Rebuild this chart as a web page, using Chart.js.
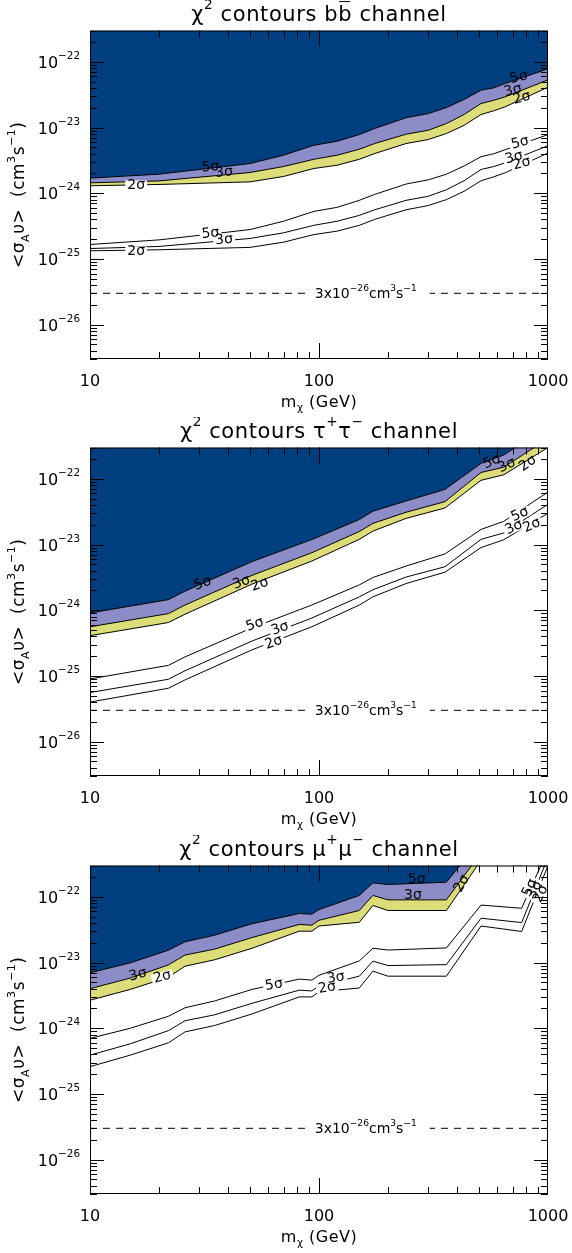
<!DOCTYPE html>
<html>
<head>
<meta charset="utf-8">
<script src="https://cdn.jsdelivr.net/npm/chart.js@4"></script>
<style>
  body { margin: 0; background: #fff; }
  .panel { position: absolute; left: 0; width: 572px; height: 418px; }
</style>
</head>
<body>
<div class="panel" style="top:0px"><canvas id="bb" width="572" height="418"></canvas></div>
<div class="panel" style="top:417px"><canvas id="tau" width="572" height="418"></canvas></div>
<div class="panel" style="top:835px"><canvas id="mu" width="572" height="418"></canvas></div>
<script>
// ---- data (mass in GeV, <sigma v> in cm^3 s^-1) ----
const bbMass  = [10, 20, 50, 70, 95, 120, 150, 175, 240, 300, 360, 430, 510, 580, 650, 1000];
const bbBand5 = [1.70e-24, 1.95e-24, 2.83e-24, 3.79e-24, 5.38e-24, 6.18e-24, 7.82e-24, 9.66e-24, 1.41e-23, 1.63e-23, 2.01e-23, 2.67e-23, 3.70e-23, 4.02e-23, 4.68e-23, 7.82e-23];
const bbBand3 = [1.44e-24, 1.54e-24, 2.07e-24, 2.55e-24, 3.29e-24, 3.79e-24, 4.67e-24, 5.71e-24, 7.91e-24, 9.10e-24, 1.15e-23, 1.58e-23, 2.32e-23, 2.60e-23, 2.93e-23, 5.32e-23];
const bbBand2 = [1.30e-24, 1.36e-24, 1.49e-24, 1.80e-24, 2.38e-24, 2.67e-24, 3.29e-24, 4.02e-24, 5.71e-24, 6.57e-24, 8.11e-24, 1.08e-23, 1.58e-23, 1.80e-23, 2.07e-23, 4.11e-23];
const bbLow5  = [1.66e-25, 1.95e-25, 2.80e-25, 3.75e-25, 5.30e-25, 6.10e-25, 7.80e-25, 9.60e-25, 1.38e-24, 1.60e-24, 1.95e-24, 2.60e-24, 3.60e-24, 4.00e-24, 4.60e-24, 7.80e-24];
const bbLow3  = [1.44e-25, 1.55e-25, 2.05e-25, 2.50e-25, 3.25e-25, 3.75e-25, 4.60e-25, 5.60e-25, 7.80e-25, 9.00e-25, 1.13e-24, 1.55e-24, 2.30e-24, 2.55e-24, 2.90e-24, 5.30e-24];
const bbLow2  = [1.33e-25, 1.38e-25, 1.50e-25, 1.80e-25, 2.35e-25, 2.65e-25, 3.25e-25, 4.00e-25, 5.60e-25, 6.50e-25, 8.00e-25, 1.07e-24, 1.55e-24, 1.78e-24, 2.05e-24, 4.10e-24];

const tauMass  = [10, 22, 26, 51, 93, 150, 172, 240, 355, 510, 640, 1000];
const tauBand5 = [9.1e-25, 1.45e-24, 1.95e-24, 5.5e-24, 1.19e-23, 2.4e-23, 3.22e-23, 4.6e-23, 6.9e-23, 1.72e-22, 2.3e-22, 6.3e-22];
const tauBand3 = [5.6e-25, 8.9e-25, 1.2e-24, 3.4e-24, 7.5e-24, 1.58e-23, 2.1e-23, 3.1e-23, 4.5e-23, 1.25e-22, 1.5e-22, 4.1e-22];
const tauBand2 = [4.1e-25, 6.5e-25, 8.7e-25, 2.5e-24, 5.6e-24, 1.2e-23, 1.6e-23, 2.5e-23, 3.6e-23, 9.5e-23, 1.15e-22, 3.0e-22];
const tauLow5  = [9.0e-26, 1.45e-25, 1.95e-25, 5.4e-25, 1.2e-24, 2.43e-24, 3.15e-24, 4.7e-24, 7.2e-24, 1.7e-23, 2.25e-23, 6.3e-23];
const tauLow3  = [5.6e-26, 8.9e-26, 1.2e-25, 3.4e-25, 7.6e-25, 1.6e-24, 2.05e-24, 3.2e-24, 4.6e-24, 1.2e-23, 1.5e-23, 4.1e-23];
const tauLow2  = [4.0e-26, 6.5e-26, 8.7e-26, 2.5e-25, 5.6e-25, 1.2e-24, 1.6e-24, 2.55e-24, 3.8e-24, 9.0e-24, 1.18e-23, 3.0e-23];

const muMass  = [10, 15, 22, 26, 35, 51, 82, 93, 100, 150, 172, 200, 360, 510, 767, 1000];
const muBand5 = [6.97e-24, 9.9e-24, 1.54e-23, 2.07e-23, 2.61e-23, 3.9e-23, 5.57e-23, 5.44e-23, 6.4e-23, 1.05e-22, 1.63e-22, 1.54e-22, 1.67e-22, 7.4e-22, 6.7e-22, 5.2e-21];
const muBand3 = [4.0e-24, 5.8e-24, 9.2e-24, 1.3e-23, 1.6e-23, 2.4e-23, 3.8e-23, 3.7e-23, 4.4e-23, 6.2e-23, 1.05e-22, 9.0e-23, 9.0e-23, 4.7e-22, 4.1e-22, 4.0e-21];
const muBand2 = [2.67e-24, 3.9e-24, 6.0e-24, 8.8e-24, 1.1e-23, 1.65e-23, 3.0e-23, 3.0e-23, 3.6e-23, 4.1e-23, 7.4e-23, 6.2e-23, 6.2e-23, 3.6e-22, 3.0e-22, 3.0e-21];
const muLow5  = [7.0e-25, 1.0e-24, 1.52e-24, 2.05e-24, 2.6e-24, 3.9e-24, 5.6e-24, 5.4e-24, 6.4e-24, 1.06e-23, 1.65e-23, 1.55e-23, 1.67e-23, 7.5e-23, 6.7e-23, 5.2e-22];
const muLow3  = [3.9e-25, 5.8e-25, 9.2e-25, 1.3e-24, 1.6e-24, 2.4e-24, 3.8e-24, 3.7e-24, 4.4e-24, 6.2e-24, 1.05e-23, 9.0e-24, 9.3e-24, 4.73e-23, 4.06e-23, 4.0e-22];
const muLow2  = [2.6e-25, 3.9e-25, 6.0e-25, 8.8e-25, 1.1e-24, 1.65e-24, 3.0e-24, 3.0e-24, 3.6e-24, 4.1e-24, 7.4e-24, 6.2e-24, 6.2e-24, 3.6e-23, 2.97e-23, 3.0e-22];

// thermal relic reference cross section
const relicValue = 3e-26;

// axes
const xMin = 10, xMax = 1000;
const yMin = 3e-27, yMax = 3e-22;
const xTickValues = [10, 100, 1000];
const xTickLabels = ['10', '100', '1000'];
const yTickExponents = [-26, -25, -24, -23, -22];

const FONT = '"DejaVu Sans", "Liberation Sans", sans-serif';
const BLUE = '#003f7f';
const LAVENDER = '#8c8cc8';
const YELLOW = '#dcdc78';
const LABEL_SIZE = 14;

// contour labels: [text, mass, value, rotation deg, white gap behind]
const bbLabels = [
  ['5σ', 33.6, 2.5e-24, -5, false], ['3σ', 38.5, 2.07e-24, -5, false], ['2σ', 15.9, 1.31e-24, 0, true],
  ['5σ', 747, 5.8e-23, -15, false], ['3σ', 703, 3.66e-23, -15, false], ['2σ', 769, 2.81e-23, -15, false],
  ['5σ', 33.6, 2.44e-25, -5, true], ['3σ', 38.5, 1.95e-25, -5, true], ['2σ', 15.9, 1.29e-25, 0, true],
  ['5σ', 755, 5.85e-24, -15, true], ['3σ', 710, 3.49e-24, -15, true], ['2σ', 769, 2.83e-24, -15, true]
];
const tauLabels = [
  ['5σ', 31.1, 2.55e-24, -20, false], ['3σ', 45.9, 2.64e-24, -20, false], ['2σ', 55.2, 2.46e-24, -20, false],
  ['5σ', 569, 1.83e-22, -25, false], ['3σ', 662, 1.6e-22, -25, false], ['2σ', 818, 1.71e-22, -35, false],
  ['5σ', 52.5, 6.05e-25, -20, true], ['3σ', 67.6, 5.26e-25, -20, true], ['2σ', 63.5, 3.22e-25, -20, true],
  ['5σ', 755, 2.86e-23, -25, true], ['3σ', 710, 1.82e-23, -25, true], ['2σ', 851, 1.95e-23, -25, true]
];
const muLabels = [
  ['3σ', 16.2, 6.5e-24, -15, false], ['2σ', 20.7, 6.05e-24, -15, true],
  ['5σ', 267, 1.82e-22, 0, false], ['3σ', 257, 1.04e-22, 0, false], ['2σ', 421, 1.58e-22, -60, false],
  ['5σ', 63.6, 4.58e-24, -10, true], ['3σ', 118.6, 5.85e-24, -10, true], ['2σ', 108.6, 4.12e-24, -10, true],
  ['5σ', 834, 1.37e-22, -65, true], ['3σ', 877, 1.28e-22, -65, true], ['2σ', 931, 1.11e-22, -65, true]
];

const panels = [
  { id: 'bb', mass: bbMass, b5: bbBand5, b3: bbBand3, b2: bbBand2, l5: bbLow5, l3: bbLow3, l2: bbLow2, labels: bbLabels,
    title: [{t: 'χ'}, {t: '2', s: 'sup'}, {t: ' contours b'}, {t: 'b', bar: true}, {t: ' channel'}] },
  { id: 'tau', mass: tauMass, b5: tauBand5, b3: tauBand3, b2: tauBand2, l5: tauLow5, l3: tauLow3, l2: tauLow2, labels: tauLabels,
    title: [{t: 'χ'}, {t: '2', s: 'sup'}, {t: ' contours τ'}, {t: '+', s: 'sup'}, {t: 'τ'}, {t: '−', s: 'sup'}, {t: ' channel'}] },
  { id: 'mu', mass: muMass, b5: muBand5, b3: muBand3, b2: muBand2, l5: muLow5, l3: muLow3, l2: muLow2, labels: muLabels,
    title: [{t: 'χ'}, {t: '2', s: 'sup'}, {t: ' contours μ'}, {t: '+', s: 'sup'}, {t: 'μ'}, {t: '−', s: 'sup'}, {t: ' channel'}] }
];

function fontFor(p, size) {
  return (p.s ? size * 0.65 : size) + 'px ' + FONT;
}

// draws text made of plain / superscript / subscript pieces, returns its width
function drawRich(ctx, parts, x, y, size, align, spacing) {
  ctx.letterSpacing = (spacing || 0) + 'px';
  const widths = parts.map(p => { ctx.font = fontFor(p, size); return ctx.measureText(p.t).width; });
  const total = widths.reduce((a, b) => a + b, 0);
  let cx = align === 'center' ? x - total / 2 : align === 'right' ? x - total : x;
  ctx.textAlign = 'left';
  ctx.textBaseline = 'alphabetic';
  parts.forEach((p, i) => {
    ctx.font = fontFor(p, size);
    let dy = 0;
    if (p.s === 'sup') dy = -size * 0.55;
    if (p.s === 'sub') dy = size * 0.28;
    ctx.fillText(p.t, cx, y + dy);
    if (p.bar) {
      ctx.beginPath();
      ctx.moveTo(cx + 1, y - size * 0.9);
      ctx.lineTo(cx + widths[i] - 2, y - size * 0.9);
      ctx.lineWidth = 1;
      ctx.stroke();
    }
    cx += widths[i];
  });
  ctx.letterSpacing = '0px';
  return total;
}

const decorations = {
  id: 'decorations',
  afterDraw(chart, args, opts) {
    const ctx = chart.ctx;
    const xs = chart.scales.x, ys = chart.scales.y;
    const a = chart.chartArea;
    ctx.save();
    ctx.strokeStyle = '#000';
    ctx.fillStyle = '#000';
    ctx.lineWidth = 1;

    // contour labels: gaps first, then text
    ctx.font = LABEL_SIZE + 'px ' + FONT;
    const lab = opts.labels.map(l => ({
      t: l[0], x: xs.getPixelForValue(l[1]), y: ys.getPixelForValue(l[2]),
      r: l[3] * Math.PI / 180, bg: l[4], w: ctx.measureText(l[0]).width
    }));
    ctx.save();
    ctx.beginPath();
    ctx.rect(a.left, a.top, a.right - a.left, a.bottom - a.top);
    ctx.clip();
    lab.filter(l => l.bg).forEach(l => {
      ctx.save();
      ctx.translate(l.x, l.y);
      ctx.rotate(l.r);
      ctx.fillStyle = '#fff';
      ctx.fillRect(-l.w / 2 - 2, -5, l.w + 4, 10);
      ctx.restore();
    });
    lab.forEach(l => {
      ctx.save();
      ctx.translate(l.x, l.y);
      ctx.rotate(l.r);
      ctx.font = LABEL_SIZE + 'px ' + FONT;
      ctx.textAlign = 'center';
      ctx.textBaseline = 'middle';
      ctx.fillStyle = '#000';
      ctx.fillText(l.t, 0, 0);
      ctx.restore();
    });

    // relic line label with a gap in the dashes
    const ry = ys.getPixelForValue(relicValue);
    const rx = xs.getPixelForValue(160);
    const relicParts = [{t: '3x10'}, {t: '−26', s: 'sup'}, {t: 'cm'}, {t: '3', s: 'sup'}, {t: 's'}, {t: '−1', s: 'sup'}];
    ctx.fillStyle = '#fff';
    ctx.fillRect(rx - 57, ry - 3, 121, 6);
    ctx.fillStyle = '#000';
    drawRich(ctx, relicParts, rx, ry + 5, 14, 'center');
    ctx.restore();

    // frame
    ctx.strokeRect(a.left + 0.5, a.top + 0.5, a.right - a.left - 1, a.bottom - a.top - 1);

    // y ticks (inward, both sides)
    ctx.beginPath();
    for (let d = -27; d <= -22; d++) {
      for (let k = 1; k <= 9; k++) {
        const v = k * Math.pow(10, d);
        if (v < yMin * 0.999 || v > yMax * 1.001) continue;
        const y = Math.round(ys.getPixelForValue(v)) + 0.5;
        const len = k === 1 ? 14 : 7;
        ctx.moveTo(a.left, y); ctx.lineTo(a.left + len, y);
        ctx.moveTo(a.right, y); ctx.lineTo(a.right - len, y);
      }
    }
    // x ticks (inward, top and bottom)
    for (let d = 1; d <= 2; d++) {
      for (let k = 1; k <= 9; k++) {
        const v = k * Math.pow(10, d);
        if (v <= xMin || v >= xMax) continue;
        const x = Math.round(xs.getPixelForValue(v)) + 0.5;
        const len = k === 1 ? 16 : 7;
        ctx.moveTo(x, a.bottom); ctx.lineTo(x, a.bottom - len);
        ctx.moveTo(x, a.top); ctx.lineTo(x, a.top + len);
      }
    }
    ctx.stroke();

    // tick labels
    yTickExponents.forEach(e => {
      const y = ys.getPixelForValue(Math.pow(10, e));
      drawRich(ctx, [{t: '10'}, {t: '−' + Math.abs(e), s: 'sup'}], a.left - 10, y + 6, 16, 'right');
    });
    xTickValues.forEach((v, i) => {
      drawRich(ctx, [{t: xTickLabels[i]}], xs.getPixelForValue(v), a.bottom + 27, 16, 'center');
    });

    // axis titles
    const cxp = (a.left + a.right) / 2;
    drawRich(ctx, [{t: 'm'}, {t: 'χ', s: 'sub'}, {t: ' (GeV)'}], cxp, a.bottom + 48, 16, 'center', 0.5);
    ctx.save();
    ctx.translate(24, (a.top + a.bottom) / 2);
    ctx.rotate(-Math.PI / 2);
    drawRich(ctx, [{t: '<σ'}, {t: 'A', s: 'sub'}, {t: 'υ>  (cm'}, {t: '3', s: 'sup'}, {t: 's'}, {t: '−1', s: 'sup'}, {t: ')'}], 0, 0, 17, 'center', 0.5);
    ctx.restore();

    // panel title
    drawRich(ctx, opts.title, cxp, a.top - 10, 21, 'center', 0.6);
    ctx.restore();
  }
};

function pts(mass, vals) {
  return mass.map((m, i) => ({x: m, y: vals[i]}));
}

panels.forEach(p => {
  const line = { borderColor: '#000', borderWidth: 1, pointRadius: 0, tension: 0 };
  new Chart(document.getElementById(p.id), {
    type: 'line',
    data: {
      datasets: [
        Object.assign({ data: pts(p.mass, p.b5), fill: 'end', backgroundColor: BLUE }, line),
        Object.assign({ data: pts(p.mass, p.b3), fill: '-1', backgroundColor: LAVENDER }, line),
        Object.assign({ data: pts(p.mass, p.b2), fill: '-1', backgroundColor: YELLOW }, line),
        Object.assign({ data: pts(p.mass, p.l5), fill: false }, line),
        Object.assign({ data: pts(p.mass, p.l3), fill: false }, line),
        Object.assign({ data: pts(p.mass, p.l2), fill: false }, line),
        Object.assign({ data: [{x: xMin, y: relicValue}, {x: xMax, y: relicValue}], fill: false, borderDash: [7, 6] }, line)
      ]
    },
    options: {
      responsive: false,
      animation: false,
      layout: { padding: { left: 90, right: 24, top: 30.5, bottom: 59 } },
      scales: {
        x: { type: 'logarithmic', min: xMin, max: xMax, display: false },
        y: { type: 'logarithmic', min: yMin, max: yMax, display: false }
      },
      plugins: {
        legend: { display: false },
        tooltip: { enabled: false },
        decorations: { labels: p.labels, title: p.title }
      }
    },
    plugins: [decorations]
  });
});
</script>
</body>
</html>
